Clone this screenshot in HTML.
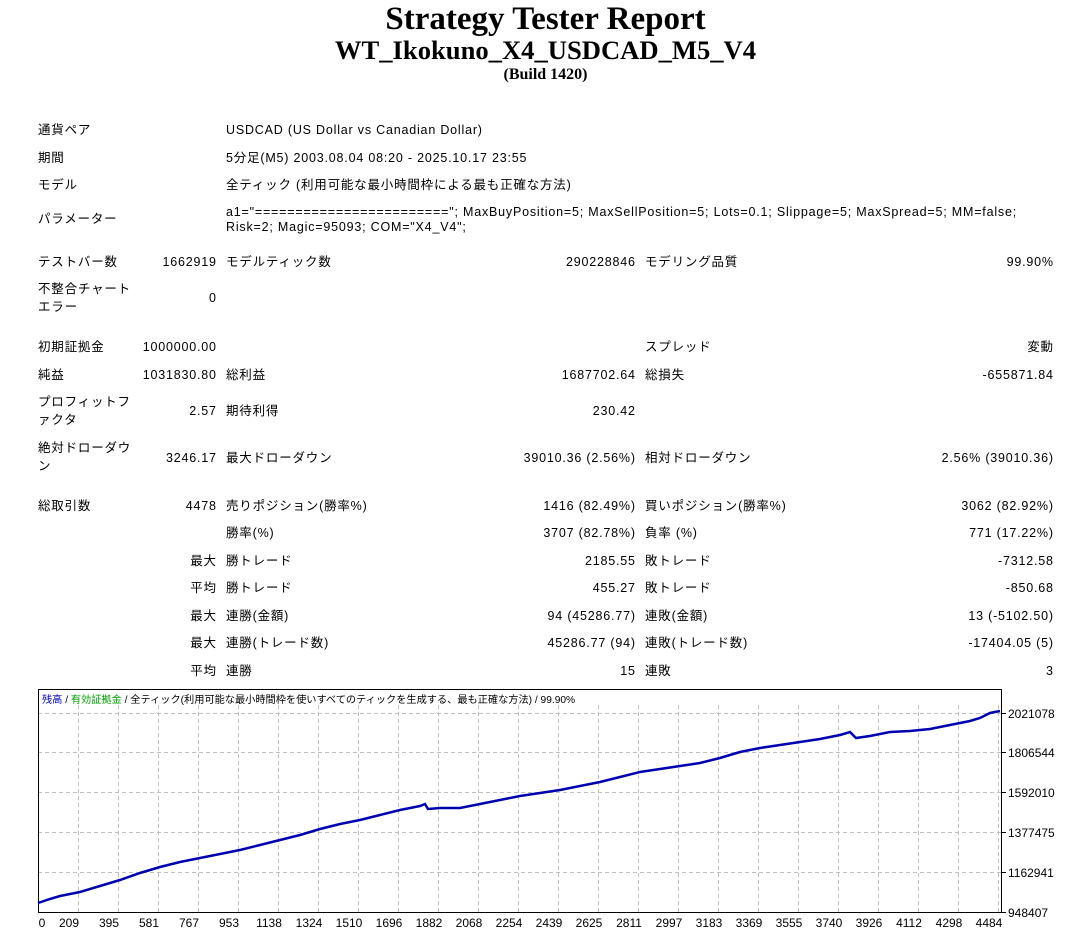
<!DOCTYPE html>
<html><head><meta charset="utf-8"><style>
body{margin:0;width:1091px;height:938px;background:#fff;position:relative;overflow:hidden;font-family:"Liberation Sans","Noto Sans CJK JP",sans-serif;font-size:12.5px;color:#000}
.t{position:absolute;white-space:nowrap;line-height:16px;letter-spacing:0.8px}
.r{text-align:right;margin-right:-0.8px}
h1,h2,h3{position:absolute;margin:0;width:1091px;text-align:center;font-family:"Liberation Serif","Noto Serif CJK SC",serif;font-weight:bold}
</style></head><body>
<h1 style="top:1px;font-size:33px;line-height:36px">Strategy Tester Report</h1>
<h2 style="top:35px;font-size:26.6px;line-height:30px">WT_Ikokuno_X4_USDCAD_M5_V4</h2>
<h3 style="top:66px;font-size:16px;line-height:18px">(Build 1420)</h3>

<div class="t" style="left:38px;top:122px">通貨ペア</div><div class="t" style="left:226px;top:122px">USDCAD (US Dollar vs Canadian Dollar)</div>
<div class="t" style="left:38px;top:150px">期間</div><div class="t" style="left:226px;top:150px">5分足(M5) 2003.08.04 08:20 - 2025.10.17 23:55</div>
<div class="t" style="left:38px;top:177px">モデル</div><div class="t" style="left:226px;top:177px">全ティック (利用可能な最小時間枠による最も正確な方法)</div>
<div class="t" style="left:38px;top:211px">パラメーター</div>
<div class="t" style="left:226px;top:204px">a1="========================"; MaxBuyPosition=5; MaxSellPosition=5; Lots=0.1; Slippage=5; MaxSpread=5; MM=false;</div>
<div class="t" style="left:226px;top:219px">Risk=2; Magic=95093; COM="X4_V4";</div>

<div class="t" style="left:38px;top:254px">テストバー数</div><div class="t r" style="right:875px;top:254px">1662919</div>
<div class="t" style="left:226px;top:254px">モデルティック数</div><div class="t r" style="right:456px;top:254px">290228846</div>
<div class="t" style="left:645px;top:254px">モデリング品質</div><div class="t r" style="right:38px;top:254px">99.90%</div>
<div class="t" style="left:38px;top:281px">不整合チャート</div><div class="t" style="left:38px;top:299px">エラー</div><div class="t r" style="right:875px;top:290px">0</div>

<div class="t" style="left:38px;top:339px">初期証拠金</div><div class="t r" style="right:875px;top:339px">1000000.00</div>
<div class="t" style="left:645px;top:339px">スプレッド</div><div class="t r" style="right:38px;top:339px">変動</div>
<div class="t" style="left:38px;top:367px">純益</div><div class="t r" style="right:875px;top:367px">1031830.80</div>
<div class="t" style="left:226px;top:367px">総利益</div><div class="t r" style="right:456px;top:367px">1687702.64</div>
<div class="t" style="left:645px;top:367px">総損失</div><div class="t r" style="right:38px;top:367px">-655871.84</div>
<div class="t" style="left:38px;top:394px">プロフィットフ</div><div class="t" style="left:38px;top:412px">ァクタ</div><div class="t r" style="right:875px;top:403px">2.57</div>
<div class="t" style="left:226px;top:403px">期待利得</div><div class="t r" style="right:456px;top:403px">230.42</div>
<div class="t" style="left:38px;top:440px">絶対ドローダウ</div><div class="t" style="left:38px;top:458px">ン</div><div class="t r" style="right:875px;top:450px">3246.17</div>
<div class="t" style="left:226px;top:450px">最大ドローダウン</div><div class="t r" style="right:456px;top:450px">39010.36 (2.56%)</div>
<div class="t" style="left:645px;top:450px">相対ドローダウン</div><div class="t r" style="right:38px;top:450px">2.56% (39010.36)</div>

<div class="t" style="left:38px;top:498px">総取引数</div><div class="t r" style="right:875px;top:498px">4478</div>
<div class="t" style="left:226px;top:498px">売りポジション(勝率%)</div><div class="t r" style="right:456px;top:498px">1416 (82.49%)</div>
<div class="t" style="left:645px;top:498px">買いポジション(勝率%)</div><div class="t r" style="right:38px;top:498px">3062 (82.92%)</div>
<div class="t" style="left:226px;top:525px">勝率(%)</div><div class="t r" style="right:456px;top:525px">3707 (82.78%)</div>
<div class="t" style="left:645px;top:525px">負率 (%)</div><div class="t r" style="right:38px;top:525px">771 (17.22%)</div>
<div class="t r" style="right:875px;top:553px">最大</div><div class="t" style="left:226px;top:553px">勝トレード</div><div class="t r" style="right:456px;top:553px">2185.55</div>
<div class="t" style="left:645px;top:553px">敗トレード</div><div class="t r" style="right:38px;top:553px">-7312.58</div>
<div class="t r" style="right:875px;top:580px">平均</div><div class="t" style="left:226px;top:580px">勝トレード</div><div class="t r" style="right:456px;top:580px">455.27</div>
<div class="t" style="left:645px;top:580px">敗トレード</div><div class="t r" style="right:38px;top:580px">-850.68</div>
<div class="t r" style="right:875px;top:608px">最大</div><div class="t" style="left:226px;top:608px">連勝(金額)</div><div class="t r" style="right:456px;top:608px">94 (45286.77)</div>
<div class="t" style="left:645px;top:608px">連敗(金額)</div><div class="t r" style="right:38px;top:608px">13 (-5102.50)</div>
<div class="t r" style="right:875px;top:635px">最大</div><div class="t" style="left:226px;top:635px">連勝(トレード数)</div><div class="t r" style="right:456px;top:635px">45286.77 (94)</div>
<div class="t" style="left:645px;top:635px">連敗(トレード数)</div><div class="t r" style="right:38px;top:635px">-17404.05 (5)</div>
<div class="t r" style="right:875px;top:663px">平均</div><div class="t" style="left:226px;top:663px">連勝</div><div class="t r" style="right:456px;top:663px">15</div>
<div class="t" style="left:645px;top:663px">連敗</div><div class="t r" style="right:38px;top:663px">3</div>

<svg style="position:absolute;left:0;top:0" width="1091" height="938">
<g stroke="#c0c0c0" stroke-dasharray="4,3" stroke-width="1">
<path d="M38 713.5H1001M38 752.5H1001M38 792.5H1001M38 832.5H1001M38 872.5H1001"/>
<path d="M78.5 705V912M118.5 705V912M158.5 705V912M198.5 705V912M238.5 705V912M278.5 705V912M318.5 705V912M358.5 705V912M398.5 705V912M438.5 705V912M478.5 705V912M518.5 705V912M558.5 705V912M598.5 705V912M638.5 705V912M678.5 705V912M718.5 705V912M758.5 705V912M798.5 705V912M838.5 705V912M878.5 705V912M918.5 705V912M958.5 705V912M998.5 705V912"/>
</g>
<rect x="38.5" y="689.5" width="963" height="223" fill="none" stroke="#000"/>
<g stroke="#000"><path d="M1002 713.5h4M1002 752.5h4M1002 792.5h4M1002 832.5h4M1002 872.5h4M1002 912.5h4"/></g>
<polyline fill="none" stroke="#0000b0" stroke-width="2.5" points="38,903 50,899 60,896 70,894 80,892 100,886 120,880 140,873 160,867 180,862 200,858 220,854 240,850 260,845 280,840 300,835 320,829 340,824 360,820 380,815 400,810 420,806 425,804 428,809 440,808 460,808 480,804 500,800 520,796 540,793 560,790 580,786 600,782 620,777 640,772 660,769 680,766 700,763 720,758 740,752 760,748 780,745 800,742 820,739 840,735 850,732 856,738 870,736 890,732 910,731 930,729 950,725 970,721 980,718 990,713 1000,711"/>
<g font-family="Liberation Sans,sans-serif" font-size="12" fill="#000">
<text x="1008" y="718">2021078</text><text x="1008" y="757">1806544</text><text x="1008" y="797">1592010</text><text x="1008" y="837">1377475</text><text x="1008" y="877">1162941</text><text x="1008" y="917">948407</text>
<g text-anchor="middle">
<text x="42" y="927">0</text><text x="69" y="927">209</text><text x="109" y="927">395</text><text x="149" y="927">581</text><text x="189" y="927">767</text><text x="229" y="927">953</text><text x="269" y="927">1138</text><text x="309" y="927">1324</text><text x="349" y="927">1510</text><text x="389" y="927">1696</text><text x="429" y="927">1882</text><text x="469" y="927">2068</text><text x="509" y="927">2254</text><text x="549" y="927">2439</text><text x="589" y="927">2625</text><text x="629" y="927">2811</text><text x="669" y="927">2997</text><text x="709" y="927">3183</text><text x="749" y="927">3369</text><text x="789" y="927">3555</text><text x="829" y="927">3740</text><text x="869" y="927">3926</text><text x="909" y="927">4112</text><text x="949" y="927">4298</text><text x="989" y="927">4484</text>
</g>
<text x="42" y="703" font-size="10.2"><tspan fill="#0000c0">残高</tspan> / <tspan fill="#00a000">有効証拠金</tspan> / 全ティック(利用可能な最小時間枠を使いすべてのティックを生成する、最も正確な方法) / 99.90%</text>
</g>
</svg>
</body></html>
